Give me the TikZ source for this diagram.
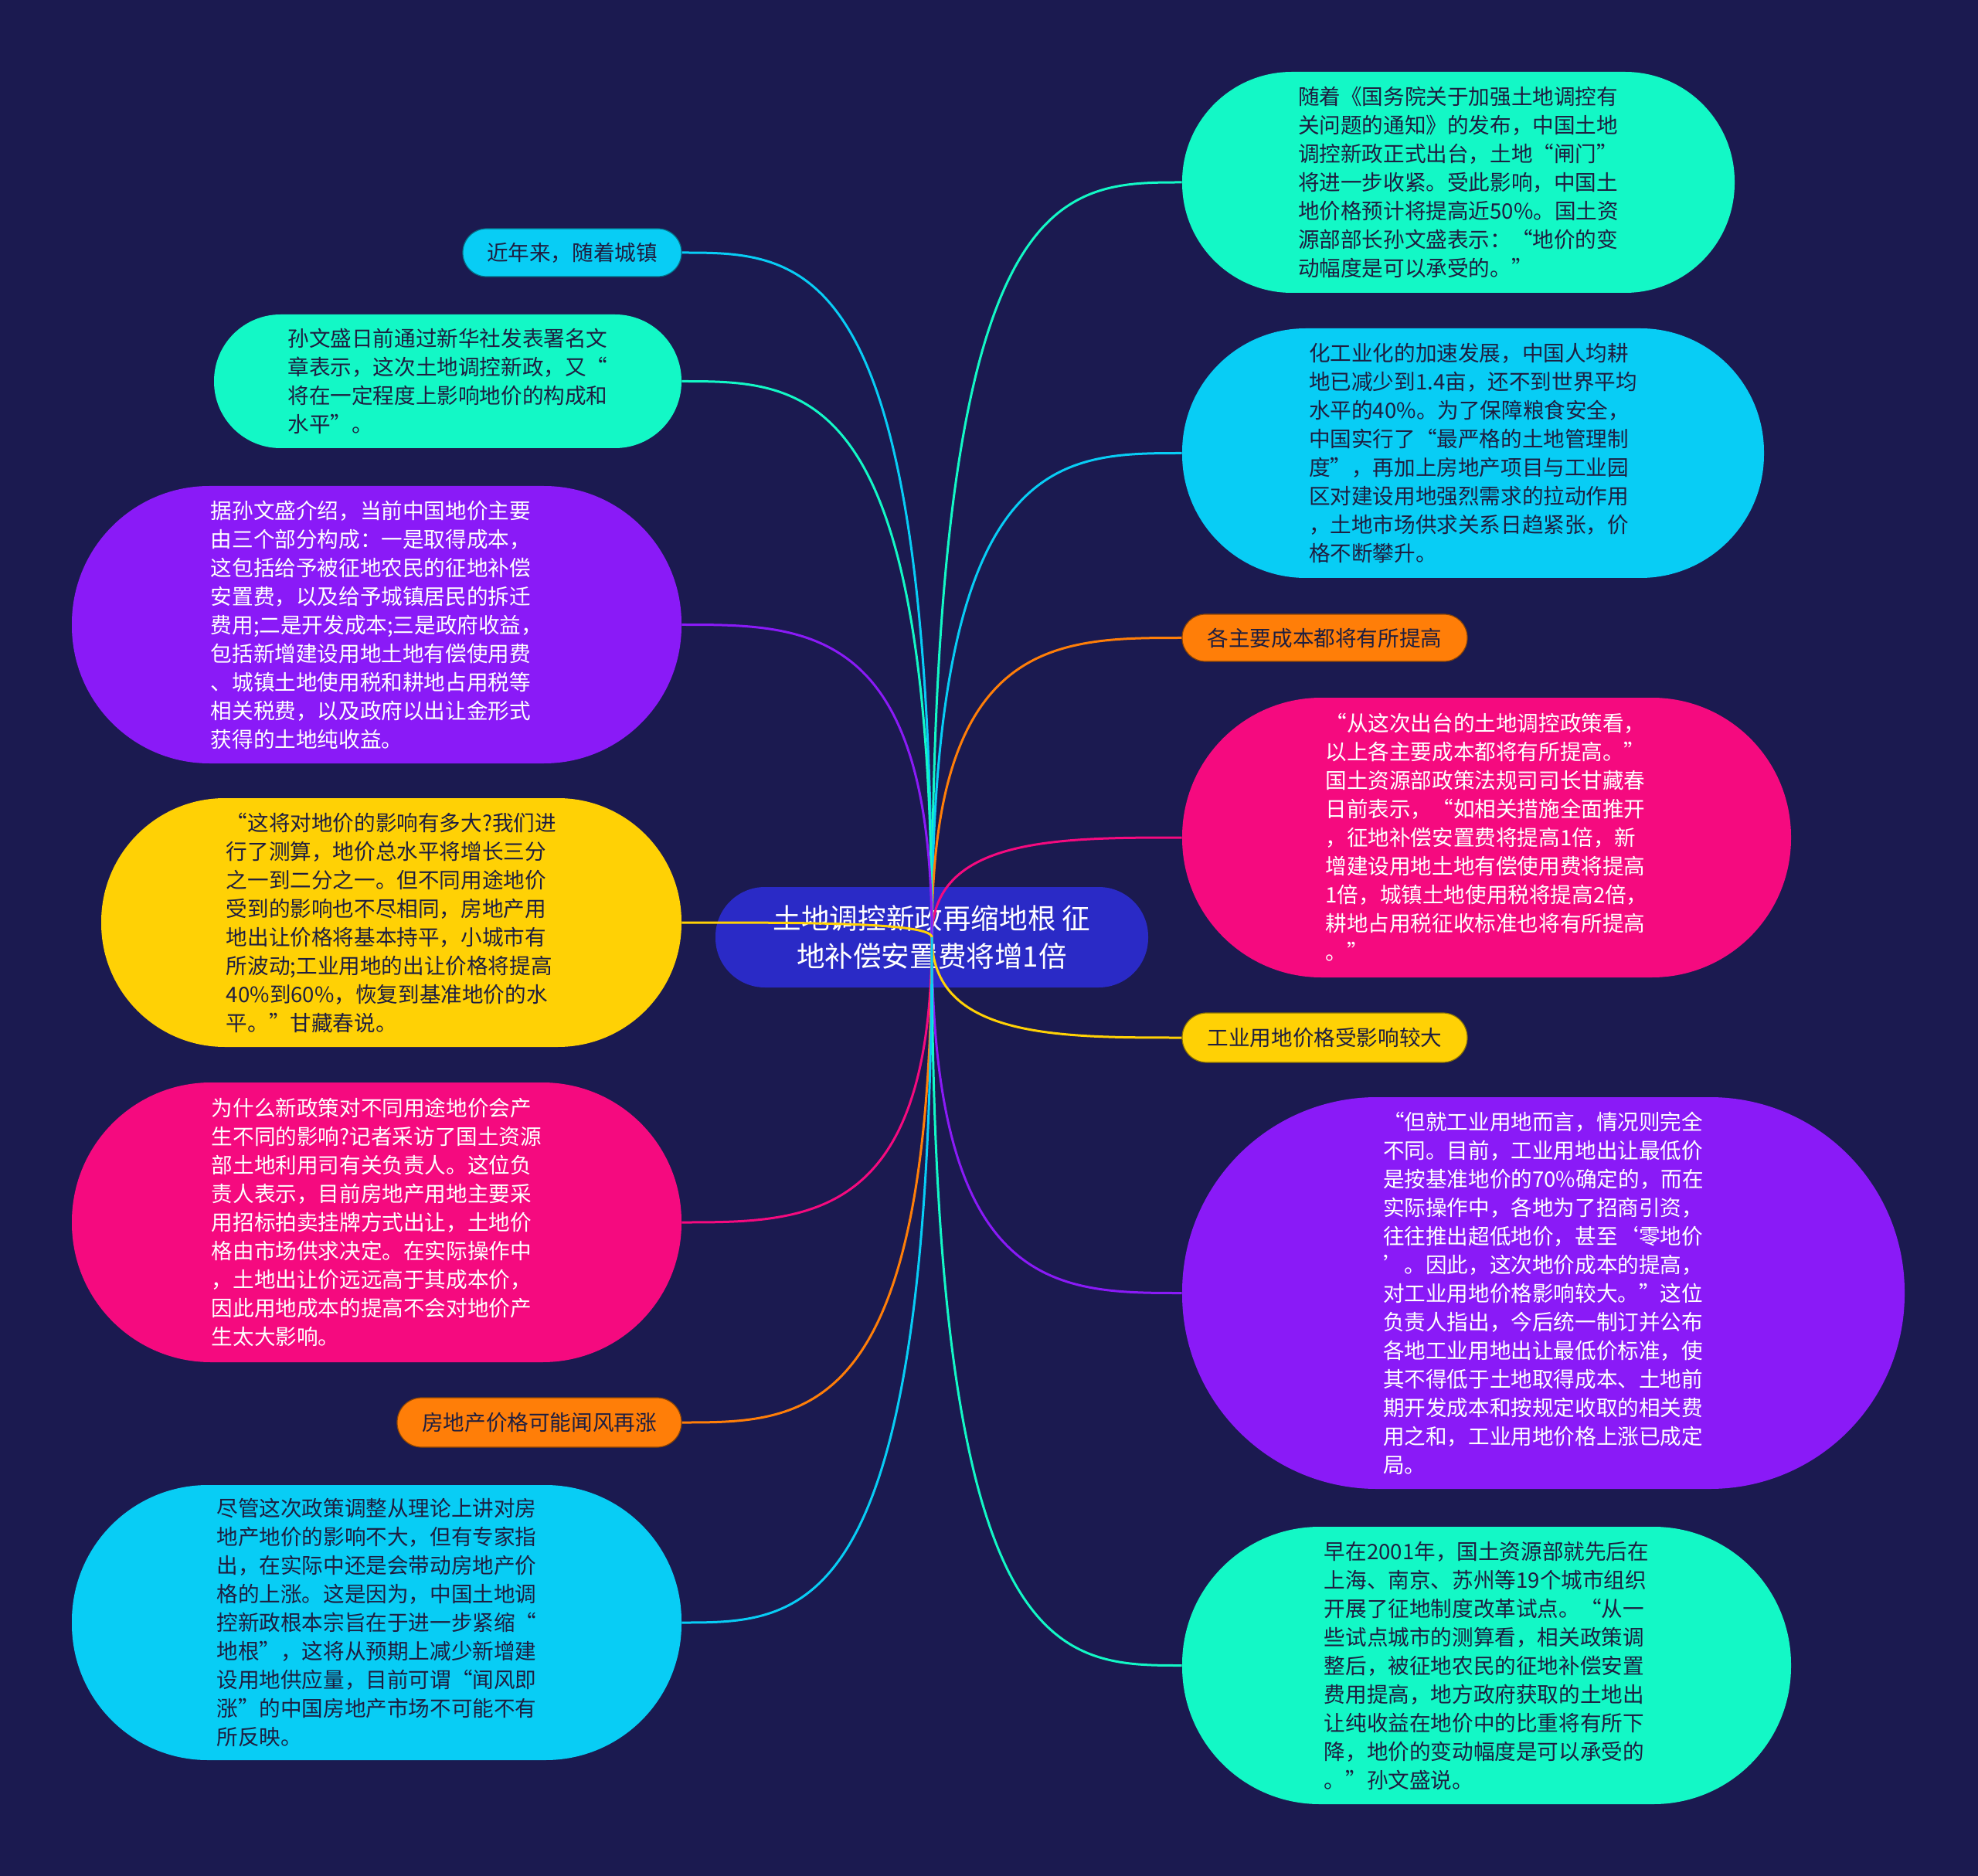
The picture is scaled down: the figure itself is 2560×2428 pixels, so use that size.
\documentclass[tikz,border=0pt]{standalone}
\usepackage{fontspec}
\setmainfont{Noto Sans CJK SC}
\usetikzlibrary{calc}
\definecolor{bgc}{HTML}{1B1A50}
\definecolor{mint}{HTML}{13F8C6}
\definecolor{cyanc}{HTML}{08CDF5}
\definecolor{purp}{HTML}{8A1AF7}
\definecolor{yell}{HTML}{FFD105}
\definecolor{pinkc}{HTML}{F50A7F}
\definecolor{oran}{HTML}{FF7E08}
\definecolor{centc}{HTML}{2A2AC6}
\definecolor{darkt}{HTML}{1E1E40}
\tikzset{
  bub/.style={align=left, inner sep=0pt, font=\fontsize{13.8pt}{18.5pt}\selectfont},
  smallbub/.style={bub, align=center, draw=#1!55!black, line width=0.6pt, fill=#1, text=darkt},
  conn/.style={line width=1.5pt, to path={.. controls (\tikztostart |- \tikztotarget) and ($(\tikztostart |- \tikztotarget)!0.5!(\tikztotarget)$) .. (\tikztotarget) \tikztonodes}}
}
\begin{document}
\begin{tikzpicture}[x=0.5pt,y=-0.5pt]
\fill[bgc] (0,0) rectangle (2560,2428);
\useasboundingbox (0,0) rectangle (2560,2428);

% center
\node[align=center, inner sep=0pt, fill=centc, text=white, font=\fontsize{18.3pt}{24.5pt}\selectfont,
  minimum width=280pt, minimum height=65pt, rounded corners=32pt] (C) at (1206,1213)
  {土地调控新政再缩地根 征\\地补偿安置费将增1倍};

% right side
\node[bub, fill=mint, text=darkt, minimum width=357.5pt, minimum height=143pt, rounded corners=71pt] (R1) at (1887.5,236)
{随着《国务院关于加强土地调控有\\关问题的通知》的发布，中国土地\\调控新政正式出台，土地“闸门”\\将进一步收紧。受此影响，中国土\\地价格预计将提高近50\%。国土资\\源部部长孙文盛表示：“地价的变\\动幅度是可以承受的。”};

\node[bub, fill=cyanc, text=darkt, minimum width=376.5pt, minimum height=161.5pt, rounded corners=80pt] (R2) at (1906.5,586.5)
{化工业化的加速发展，中国人均耕\\地已减少到1.4亩，还不到世界平均\\水平的40\%。为了保障粮食安全，\\中国实行了“最严格的土地管理制\\度”，再加上房地产项目与工业园\\区对建设用地强烈需求的拉动作用\\，土地市场供求关系日趋紧张，价\\格不断攀升。};

\node[smallbub=oran, minimum width=184.5pt, minimum height=30.5pt, rounded corners=15pt] (R3) at (1714.5,825.5)
{各主要成本都将有所提高};

\node[bub, fill=pinkc, text=white, minimum width=394pt, minimum height=181pt, rounded corners=90pt] (R4) at (1924,1084)
{“从这次出台的土地调控政策看，\\以上各主要成本都将有所提高。”\\国土资源部政策法规司司长甘藏春\\日前表示，“如相关措施全面推开\\，征地补偿安置费将提高1倍，新\\增建设用地土地有偿使用费将提高\\1倍，城镇土地使用税将提高2倍，\\耕地占用税征收标准也将有所提高\\。”};

\node[smallbub=yell, minimum width=184.5pt, minimum height=32pt, rounded corners=15.8pt] (R5) at (1714.5,1343)
{工业用地价格受影响较大};

\node[bub, fill=purp, text=white, minimum width=467.5pt, minimum height=253.5pt, rounded corners=126pt] (R6) at (1997.5,1673.5)
{“但就工业用地而言，情况则完全\\不同。目前，工业用地出让最低价\\是按基准地价的70\%确定的，而在\\实际操作中，各地为了招商引资，\\往往推出超低地价，甚至‘零地价\\’。因此，这次地价成本的提高，\\对工业用地价格影响较大。”这位\\负责人指出，今后统一制订并公布\\各地工业用地出让最低价标准，使\\其不得低于土地取得成本、土地前\\期开发成本和按规定收取的相关费\\用之和，工业用地价格上涨已成定\\局。};

\node[bub, fill=mint, text=darkt, minimum width=394pt, minimum height=179.5pt, rounded corners=89pt] (R7) at (1924,2155.5)
{早在2001年，国土资源部就先后在\\上海、南京、苏州等19个城市组织\\开展了征地制度改革试点。“从一\\些试点城市的测算看，相关政策调\\整后，被征地农民的征地补偿安置\\费用提高，地方政府获取的土地出\\让纯收益在地价中的比重将有所下\\降，地价的变动幅度是可以承受的\\。”孙文盛说。};

% left side
\node[smallbub=cyanc, minimum width=141.5pt, minimum height=31pt, rounded corners=15.3pt] (L1) at (740.5,327)
{近年来，随着城镇};

\node[bub, fill=mint, text=darkt, minimum width=302.5pt, minimum height=86.5pt, rounded corners=43pt] (L2) at (579.5,493.5)
{孙文盛日前通过新华社发表署名文\\章表示，这次土地调控新政，又“\\将在一定程度上影响地价的构成和\\水平”。};

\node[bub, fill=purp, text=white, minimum width=394.5pt, minimum height=179.5pt, rounded corners=89pt] (L3) at (487.5,808.5)
{据孙文盛介绍，当前中国地价主要\\由三个部分构成：一是取得成本，\\这包括给予被征地农民的征地补偿\\安置费，以及给予城镇居民的拆迁\\费用;二是开发成本;三是政府收益，\\包括新增建设用地土地有偿使用费\\、城镇土地使用税和耕地占用税等\\相关税费，以及政府以出让金形式\\获得的土地纯收益。};

\node[bub, fill=yell, text=darkt, minimum width=375.5pt, minimum height=161pt, rounded corners=80pt] (L4) at (506.5,1194)
{“这将对地价的影响有多大?我们进\\行了测算，地价总水平将增长三分\\之一到二分之一。但不同用途地价\\受到的影响也不尽相同，房地产用\\地出让价格将基本持平，小城市有\\所波动;工业用地的出让价格将提高\\40\%到60\%，恢复到基准地价的水\\平。”甘藏春说。};

\node[bub, fill=pinkc, text=white, minimum width=394.5pt, minimum height=181pt, rounded corners=90pt] (L5) at (487.5,1582)
{为什么新政策对不同用途地价会产\\生不同的影响?记者采访了国土资源\\部土地利用司有关负责人。这位负\\责人表示，目前房地产用地主要采\\用招标拍卖挂牌方式出让，土地价\\格由市场供求决定。在实际操作中\\，土地出让价远远高于其成本价，\\因此用地成本的提高不会对地价产\\生太大影响。};

\node[smallbub=oran, minimum width=184pt, minimum height=32pt, rounded corners=15.8pt] (L6) at (698,1841)
{房地产价格可能闻风再涨};

\node[bub, fill=cyanc, text=darkt, minimum width=394.5pt, minimum height=178pt, rounded corners=88pt] (L7) at (487.5,2100)
{尽管这次政策调整从理论上讲对房\\地产地价的影响不大，但有专家指\\出，在实际中还是会带动房地产价\\格的上涨。这是因为，中国土地调\\控新政根本宗旨在于进一步紧缩“\\地根”，这将从预期上减少新增建\\设用地供应量，目前可谓“闻风即\\涨”的中国房地产市场不可能不有\\所反映。};

% connectors
\draw[conn, draw=mint] (C.center) to (R1.west);
\draw[conn, draw=cyanc] (C.center) to (R2.west);
\draw[conn, draw=oran] (C.center) to (R3.west);
\draw[conn, draw=pinkc] (C.center) to (R4.west);
\draw[conn, draw=yell] (C.center) to (R5.west);
\draw[conn, draw=purp] (C.center) to (R6.west);
\draw[conn, draw=mint] (C.center) to (R7.west);
\draw[conn, draw=cyanc] (C.center) to (L1.east);
\draw[conn, draw=mint] (C.center) to (L2.east);
\draw[conn, draw=purp] (C.center) to (L3.east);
\draw[conn, draw=yell] (C.center) to (L4.east);
\draw[conn, draw=pinkc] (C.center) to (L5.east);
\draw[conn, draw=oran] (C.center) to (L6.east);
\draw[conn, draw=cyanc] (C.center) to (L7.east);
\end{tikzpicture}
\end{document}
